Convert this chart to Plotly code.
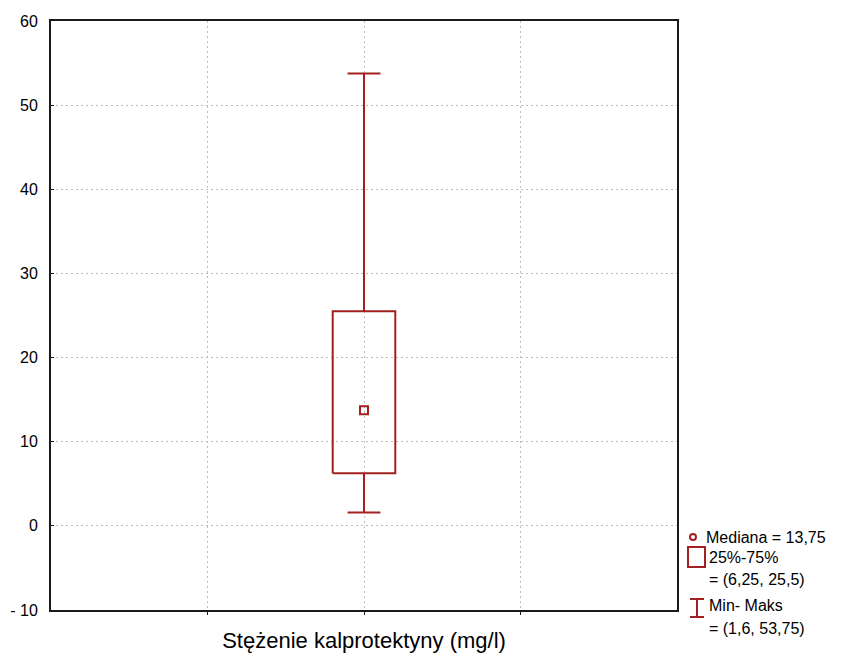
import plotly.graph_objects as go

category = "Stężenie kalprotektyny (mg/l)"
median_val = [13.75]
q1_val = [6.25]
q3_val = [25.5]
min_val = [1.6]
max_val = [53.75]
y_ticks = [-10, 0, 10, 20, 30, 40, 50, 60]
y_tick_labels = ["- 10", "0", "10", "20", "30", "40", "50", "60"]

RED = "#a32020"
FONT = "Liberation Sans, Arial, sans-serif"
GRID = "#bdbdbd"

c = 0.0
bw = 0.2   # box half-width
cw = 0.105  # cap half-width
q1, q3, med, mn, mx = q1_val[0], q3_val[0], median_val[0], min_val[0], max_val[0]

fig = go.Figure()
# whiskers
fig.add_trace(go.Scatter(
    x=[c, c, None, c, c, None, c - cw, c + cw, None, c - cw, c + cw],
    y=[q3, mx, None, q1, mn, None, mx, mx, None, mn, mn],
    mode="lines", line=dict(color=RED, width=2), hoverinfo="skip", showlegend=False))
# box
fig.add_trace(go.Scatter(
    x=[c - bw, c + bw, c + bw, c - bw, c - bw],
    y=[q1, q1, q3, q3, q1],
    mode="lines", line=dict(color=RED, width=2), hoverinfo="skip", showlegend=False))
# median
fig.add_trace(go.Scatter(
    x=[c], y=[med], mode="markers",
    marker=dict(symbol="square-open", size=8, color=RED, line=dict(width=2, color=RED)),
    showlegend=False))

def fmt(v):
    return ("%g" % v).replace(".", ",")

shapes = []
annotations = []
W, H = 853, 653
ml, mr, mt, mb = 51, 176, 21, 43
pw, ph = W - ml - mr, H - mt - mb
def px(xp):
    return (xp - ml) / pw
def py(yp):
    return 1 - (yp - mt) / ph

# legend icons
shapes.append(dict(type="circle", xref="paper", yref="paper",
                   x0=px(690), x1=px(696), y0=py(540), y1=py(534),
                   line=dict(color=RED, width=2)))
shapes.append(dict(type="rect", xref="paper", yref="paper",
                   x0=px(688), x1=px(705), y0=py(567), y1=py(547),
                   line=dict(color=RED, width=2)))
shapes.append(dict(type="line", xref="paper", yref="paper",
                   x0=px(697), x1=px(697), y0=py(617), y1=py(599),
                   line=dict(color=RED, width=2)))
shapes.append(dict(type="line", xref="paper", yref="paper",
                   x0=px(690), x1=px(704), y0=py(599), y1=py(599),
                   line=dict(color=RED, width=2)))
shapes.append(dict(type="line", xref="paper", yref="paper",
                   x0=px(690), x1=px(704), y0=py(617), y1=py(617),
                   line=dict(color=RED, width=2)))

leg_texts = [
    (704, 537, "Mediana = " + fmt(med)),
    (707, 557, "25%-75%"),
    (707, 579, "= (" + fmt(q1) + ", " + fmt(q3) + ")"),
    (707, 605, "Min- Maks"),
    (707, 628, "= (" + fmt(mn) + ", " + fmt(mx) + ")"),
]
for xp, yp, t in leg_texts:
    annotations.append(dict(xref="paper", yref="paper", x=px(xp), y=py(yp),
                            text=t, showarrow=False, xanchor="left", yanchor="middle",
                            font=dict(family=FONT, size=16, color="black")))

fig.update_layout(
    width=W, height=H,
    margin=dict(l=ml, r=mr, t=mt, b=mb, autoexpand=False),
    paper_bgcolor="white", plot_bgcolor="white",
    showlegend=False,
    shapes=shapes, annotations=annotations,
    font=dict(family=FONT, color="black"),
    xaxis=dict(range=[-2, 2], tickvals=[-1, 0, 1], ticktext=["", category, ""],
               showgrid=True, gridcolor=GRID, griddash="2px,3px", gridwidth=1,
               showline=True, mirror=True, linecolor="#1a1a1a", linewidth=2,
               ticks="outside", ticklen=3, tickcolor="#1a1a1a", ticklabelstandoff=7,
               automargin=False,
               tickfont=dict(size=22, family=FONT), zeroline=False, fixedrange=True),
    yaxis=dict(range=[-10, 60], tickvals=y_ticks, ticktext=y_tick_labels,
               showgrid=True, gridcolor=GRID, griddash="2px,3px", gridwidth=1,
               showline=True, mirror=True, linecolor="#1a1a1a", linewidth=2,
               ticks="inside", ticklen=3, tickcolor="#1a1a1a", ticklabelstandoff=8,
               automargin=False,
               tickfont=dict(size=16, family=FONT), zeroline=False, fixedrange=True),
)

fig.write_html("out.html")
